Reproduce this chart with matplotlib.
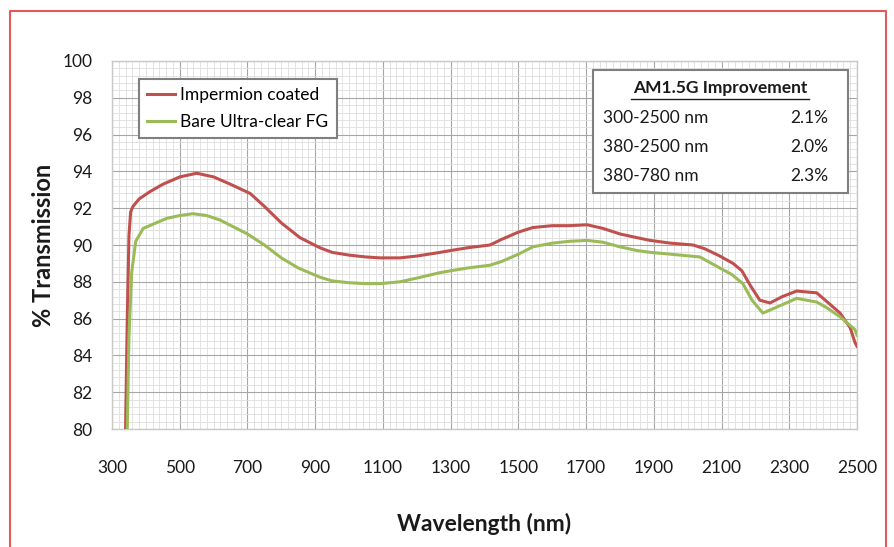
import matplotlib
matplotlib.use("Agg")
import matplotlib.pyplot as plt
from matplotlib.ticker import MultipleLocator
from matplotlib.lines import Line2D
from matplotlib.patches import Rectangle

plt.rcParams['font.family'] = ['Lato', 'DejaVu Sans']

# Impermion coated
red_wl = [340, 345, 350, 355, 362, 380, 412, 450, 500, 550, 600, 650, 708, 750, 800, 855,
          914, 950, 1000, 1050, 1091, 1150, 1200, 1269, 1300, 1350, 1416, 1450, 1500, 1543,
          1600, 1650, 1703, 1750, 1800, 1850, 1889, 1950, 2016, 2050, 2095, 2134, 2160, 2185,
          2213, 2243, 2280, 2322, 2350, 2381, 2400, 2450, 2480, 2494, 2500]
red_val = [80.0, 86.0, 90.5, 91.8, 92.1, 92.5, 92.9, 93.3, 93.7, 93.9, 93.7, 93.3, 92.8, 92.1, 91.2, 90.4,
           89.85, 89.6, 89.45, 89.35, 89.3, 89.3, 89.4, 89.6, 89.7, 89.85, 90.0, 90.3, 90.7, 90.95,
           91.05, 91.05, 91.1, 90.9, 90.6, 90.4, 90.25, 90.1, 90.0, 89.8, 89.4, 89.0, 88.6, 87.8,
           87.0, 86.85, 87.2, 87.5, 87.45, 87.4, 87.1, 86.3, 85.5, 84.7, 84.5]

# Bare Ultra-clear FG
green_wl = [345, 350, 358, 370, 392, 430, 462, 500, 539, 580, 620, 657, 700, 750, 800, 850,
            914, 950, 1000, 1050, 1091, 1150, 1200, 1269, 1300, 1350, 1416, 1450, 1500, 1543,
            1600, 1650, 1703, 1750, 1800, 1850, 1889, 1950, 2036, 2095, 2130, 2163, 2190, 2222,
            2260, 2322, 2381, 2410, 2450, 2494, 2500]
green_val = [80.0, 85.0, 88.5, 90.2, 90.9, 91.2, 91.45, 91.6, 91.7, 91.6, 91.35, 91.0, 90.6, 90.0, 89.3, 88.75,
             88.25, 88.05, 87.95, 87.9, 87.9, 88.0, 88.2, 88.5, 88.6, 88.75, 88.9, 89.1, 89.5, 89.9,
             90.1, 90.2, 90.25, 90.15, 89.9, 89.7, 89.6, 89.5, 89.35, 88.75, 88.4, 87.9, 87.0, 86.3,
             86.6, 87.1, 86.9, 86.6, 86.1, 85.4, 85.1]

x_ticks = list(range(300, 2501, 200))
y_ticks = list(range(80, 101, 2))

table_title = "AM1.5G Improvement"
table_ranges = ["300-2500 nm", "380-2500 nm", "380-780 nm"]
table_values = ["2.1%", "2.0%", "2.3%"]

fig = plt.figure(figsize=(8.94, 5.47), dpi=100)
ax = fig.add_axes([0.1253, 0.2157, 0.8333, 0.6728])

ax.plot(red_wl, red_val, color='#c0504d', lw=2.2, label='Impermion coated', zorder=3)
ax.plot(green_wl, green_val, color='#9bbb59', lw=2.2, label='Bare Ultra-clear FG', zorder=3)

ax.set_xlim(300, 2500)
ax.set_ylim(80, 100)
ax.set_xticks(x_ticks)
ax.set_yticks(y_ticks)
ax.xaxis.set_minor_locator(MultipleLocator(20))
ax.yaxis.set_minor_locator(MultipleLocator(0.4))
ax.grid(which='major', color='#a6a6a6', lw=0.8)
ax.grid(which='minor', color='#dedede', lw=0.6)
ax.set_axisbelow(True)
for s in ax.spines.values():
    s.set_color('#c8c8c8')
    s.set_linewidth(1.0)
ax.tick_params(which='both', length=0)
ax.tick_params(axis='x', pad=22, labelsize=12.5, colors='#1a1a1a')
ax.tick_params(axis='y', pad=14, labelsize=12.5, colors='#1a1a1a')

ax.set_xlabel('Wavelength (nm)', fontsize=16.5, fontweight='bold', color='#1a1a1a')
ax.set_ylabel('% Transmission', fontsize=17, fontweight='bold', color='#1a1a1a')
ax.xaxis.set_label_coords(0.5, -0.228)
ax.yaxis.set_label_coords(-0.077, 0.5)

leg = ax.legend(loc='upper left', bbox_to_anchor=(0.024, 0.976), fontsize=12.5,
                frameon=True, fancybox=False, edgecolor='#7f7f7f', framealpha=1,
                handlelength=1.6, handletextpad=0.3, borderpad=0.5, labelspacing=0.6)
leg.get_frame().set_linewidth(1.5)
leg.set_zorder(5)

# table box
rect = Rectangle((0.646, 0.641), 0.342, 0.335, transform=ax.transAxes,
                 facecolor='white', edgecolor='#7f7f7f', lw=1.5, zorder=5)
ax.add_patch(rect)
ax.text(0.816, 0.927, table_title, transform=ax.transAxes, ha='center', va='center',
        fontsize=12.5, fontweight='bold', color='#1a1a1a', zorder=6)
ax.add_line(Line2D([0.697, 0.935], [0.898, 0.898], transform=ax.transAxes,
                   color='#1a1a1a', lw=1.0, zorder=6))
row_y = [0.845, 0.766, 0.688]
for yy, rng, val in zip(row_y, table_ranges, table_values):
    ax.text(0.659, yy, rng, transform=ax.transAxes, ha='left', va='center',
            fontsize=12.5, color='#1a1a1a', zorder=6)
    ax.text(0.961, yy, val, transform=ax.transAxes, ha='right', va='center',
            fontsize=12.5, color='#1a1a1a', zorder=6)

# red frame around figure (left, top, right)
W, H = 894, 547
fx = lambda p: p / W
fy = lambda p: 1 - p / H
fig.add_artist(Line2D([fx(10), fx(10), fx(886), fx(886)], [0, fy(11), fy(11), 0],
                      transform=fig.transFigure, color='#e05a5a', lw=1.5))

fig.savefig('out.png', dpi=100)
